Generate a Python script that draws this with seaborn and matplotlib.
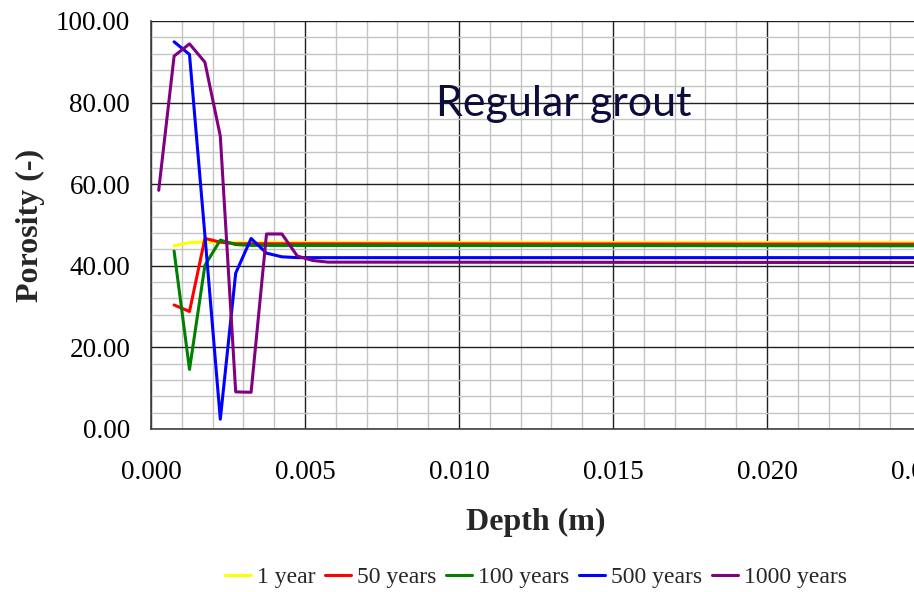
import matplotlib
matplotlib.use("Agg")
import matplotlib.pyplot as plt
import seaborn as sns
import pandas as pd
import numpy as np
from matplotlib.ticker import MultipleLocator, FormatStrFormatter

# ---- data ----
series_names = ["1 year", "50 years", "100 years", "500 years", "1000 years"]

depth_1 = [0.00075, 0.00125, 0.00175, 0.00225, 0.025]
poro_1 = [44.9, 45.7, 45.8, 45.7, 45.7]

depth_50 = [0.00075, 0.00125, 0.00175, 0.00225, 0.00275, 0.025]
poro_50 = [30.4, 28.8, 46.7, 45.8, 45.4, 45.3]

depth_100 = [0.00075, 0.00125, 0.00175, 0.00225, 0.00275, 0.00325, 0.025]
poro_100 = [43.6, 14.6, 40.1, 46.3, 45.2, 45.0, 44.9]

depth_500 = [0.00075, 0.00125, 0.00175, 0.00225, 0.00275, 0.00325, 0.00375,
             0.00425, 0.00475, 0.025]
poro_500 = [94.9, 91.8, 47.5, 2.4, 38.2, 46.7, 43.1, 42.2, 42.0, 42.0]

depth_1000 = [0.00025, 0.00075, 0.00125, 0.00175, 0.00225, 0.00275, 0.00325,
              0.00375, 0.00425, 0.00475, 0.00525, 0.00575, 0.025]
poro_1000 = [58.5, 91.4, 94.4, 89.9, 71.8, 9.1, 9.0, 47.8, 47.8, 42.4, 41.3,
             40.9, 40.8]

colors = ["#ffff00", "#ff0000", "#008000", "#0000ff", "#800080"]

frames = []
for name, d, p in zip(series_names,
                      [depth_1, depth_50, depth_100, depth_500, depth_1000],
                      [poro_1, poro_50, poro_100, poro_500, poro_1000]):
    frames.append(pd.DataFrame({"Depth": d, "Porosity": p, "Series": name}))
df = pd.concat(frames, ignore_index=True)

# ---- figure ----
sns.set_style("white")
plt.rcParams["font.family"] = ["Liberation Serif", "DejaVu Serif"]

fig = plt.figure(figsize=(9.14, 5.92), dpi=100)
ax = fig.add_axes([151 / 914, 1 - 429 / 592, 770 / 914, 408 / 592])

sns.lineplot(data=df, x="Depth", y="Porosity", hue="Series",
             hue_order=series_names, palette=dict(zip(series_names, colors)),
             linewidth=2.2, ax=ax, legend=True, estimator=None, sort=False)

ax.set_xlim(0, 0.025)
ax.set_ylim(0, 100)
ax.xaxis.set_major_locator(MultipleLocator(0.005))
ax.xaxis.set_minor_locator(MultipleLocator(0.001))
ax.yaxis.set_major_locator(MultipleLocator(20))
ax.yaxis.set_minor_locator(MultipleLocator(4))
ax.xaxis.set_major_formatter(FormatStrFormatter("%.3f"))
ax.yaxis.set_major_formatter(FormatStrFormatter("%.2f"))

ax.grid(which="minor", color="#c4c4c4", linewidth=1.0)
ax.grid(which="major", color="#202020", linewidth=1.0)
ax.set_axisbelow(True)

for s in ["top", "right"]:
    ax.spines[s].set_visible(False)
for s in ["left", "bottom"]:
    ax.spines[s].set_color("#404040")
    ax.spines[s].set_linewidth(1.2)

ax.tick_params(axis="both", which="major", direction="out", length=6,
               width=1, color="#404040", labelsize=19.5, labelcolor="black")
ax.tick_params(axis="y", which="major", pad=9)
ax.tick_params(axis="x", which="major", pad=16)
ax.tick_params(which="minor", length=0)

ax.set_xlabel("Depth (m)", fontsize=23, fontweight="bold", labelpad=17)
ax.set_ylabel("Porosity (-)", fontsize=23, fontweight="bold", labelpad=8)

ax.text(0.01341, 79.6, "Regular grout", ha="center", va="center",
        fontsize=31, color="#0d0d3d", family=["Lato", "DejaVu Sans"])

handles, labels = ax.get_legend_handles_labels()
ax.legend_.remove()
fig.legend(handles, labels, loc="center", bbox_to_anchor=(536 / 914, 1 - 577 / 592),
           ncol=5, frameon=False, fontsize=17, handlelength=1.1,
           handletextpad=0.25, columnspacing=0.42, borderaxespad=0)

fig.savefig("out.png", dpi=100)
